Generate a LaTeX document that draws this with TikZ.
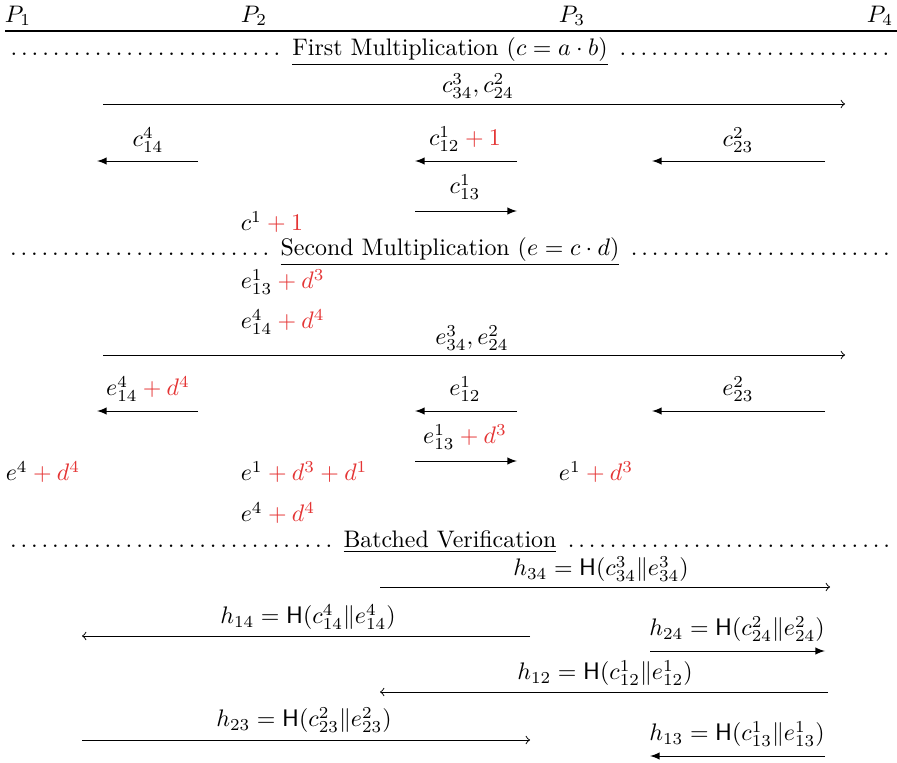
\documentclass[tikz,border=0pt]{standalone}
\usepackage{amsmath}
\definecolor{addred}{RGB}{228,52,52}
\newcommand{\rd}{\color{addred}}
\begin{document}
\begin{tikzpicture}[
    x=0.4184pt, y=-0.4184pt,
    lbl/.style={inner sep=1pt},
    msg/.style={-latex},
    bcast/.style={->},
    sepline/.style={inner sep=0pt},
  ]
    \useasboundingbox (0,0) rectangle (897,763);

    % parties
    \foreach \i/\x in {1/18, 2/254, 3/572, 4/880}
      \node[lbl] (p\i) at (\x,16) {$P_\i$};
    \coordinate (rl) at (5,31);
    \coordinate (rr) at (897,31);
    \draw[line width=0.45pt] (rl) -- (rr);

    % first multiplication
    \node[sepline] (t1) at (450,52) {\makebox[371pt]{\dotfill\ \underline{First Multiplication ($c = a \cdot b$)}\ \dotfill}};
    \coordinate (c0s) at (103,104);
    \coordinate (c0t) at (845,104);
    \draw[bcast] (c0s) -- (c0t);
    \node[lbl] (c0l) at (478,86) {$c^3_{34}, c^2_{24}$};
    \foreach \n/\xa/\xb/\y in {a/198/97/161, b/517/415/161, c/825/652/161, d/415/517/211} {
      \coordinate (c\n s) at (\xa,\y);
      \coordinate (c\n t) at (\xb,\y);
      \draw[msg] (c\n s) -- (c\n t);
    }
    \node[lbl] (cal) at (148,140) {$c^4_{14}$};
    \node[lbl] (cbl) at (465,139) {$c^1_{12} \rd + 1$};
    \node[lbl] (ccl) at (738,140) {$c^2_{23}$};
    \node[lbl] (cdl) at (465,187) {$c^1_{13}$};
    \node[lbl, anchor=west] (c2) at (238,222) {$c^1 \rd + 1$};

    % second multiplication
    \node[sepline] (t2) at (450,252) {\makebox[371pt]{\dotfill\ \underline{Second Multiplication ($e = c \cdot d$)}\ \dotfill}};
    \node[lbl, anchor=west] (e2a) at (238,282) {$e^1_{13} \rd + d^3$};
    \node[lbl, anchor=west] (e2b) at (238,322) {$e^4_{14} \rd + d^4$};
    \coordinate (e0s) at (103,355);
    \coordinate (e0t) at (845,355);
    \draw[bcast] (e0s) -- (e0t);
    \node[lbl] (e0l) at (472,338) {$e^3_{34}, e^2_{24}$};
    \foreach \n/\xa/\xb/\y in {a/198/97/411, b/517/415/411, c/825/652/411, d/415/517/461} {
      \coordinate (e\n s) at (\xa,\y);
      \coordinate (e\n t) at (\xb,\y);
      \draw[msg] (e\n s) -- (e\n t);
    }
    \node[lbl] (eal) at (148,389) {$e^4_{14} \rd + d^4$};
    \node[lbl] (ebl) at (465,389) {$e^1_{12}$};
    \node[lbl] (ecl) at (738,389) {$e^2_{23}$};
    \node[lbl] (edl) at (465,437) {$e^1_{13} \rd + d^3$};
    \node[lbl, anchor=west] (e1) at (3,472) {$e^4 \rd + d^4$};
    \node[lbl, anchor=west] (e2c) at (238,472) {$e^1 \rd + d^3 + d^1$};
    \node[lbl, anchor=west] (e2d) at (238,513) {$e^4 \rd + d^4$};
    \node[lbl, anchor=west] (e3) at (556,472) {$e^1 \rd + d^3$};

    % batched verification
    \node[sepline] (t3) at (450,542) {\makebox[371pt]{\dotfill\ \underline{Batched Verification}\ \dotfill}};
    \foreach \n/\xa/\xb/\y/\tip in {34/380/830/587/bcast, 14/530/82/636/bcast, 24/650/825/651/msg,
                                     12/828/380/692/bcast, 23/82/530/740/bcast, 13/825/650/756/msg} {
      \coordinate (h\n s) at (\xa,\y);
      \coordinate (h\n t) at (\xb,\y);
      \draw[\tip] (h\n s) -- (h\n t);
    }
    \node[lbl] (h34l) at (601,569) {$h_{34} = \mathsf{H}(c^3_{34} \| e^3_{34})$};
    \node[lbl] (h14l) at (308,617) {$h_{14} = \mathsf{H}(c^4_{14} \| e^4_{14})$};
    \node[lbl] (h24l) at (737,629) {$h_{24} = \mathsf{H}(c^2_{24} \| e^2_{24})$};
    \node[lbl] (h12l) at (605,673) {$h_{12} = \mathsf{H}(c^1_{12} \| e^1_{12})$};
    \node[lbl] (h23l) at (304,720) {$h_{23} = \mathsf{H}(c^2_{23} \| e^2_{23})$};
    \node[lbl] (h13l) at (737,734) {$h_{13} = \mathsf{H}(c^1_{13} \| e^1_{13})$};
  \end{tikzpicture}
\end{document}
